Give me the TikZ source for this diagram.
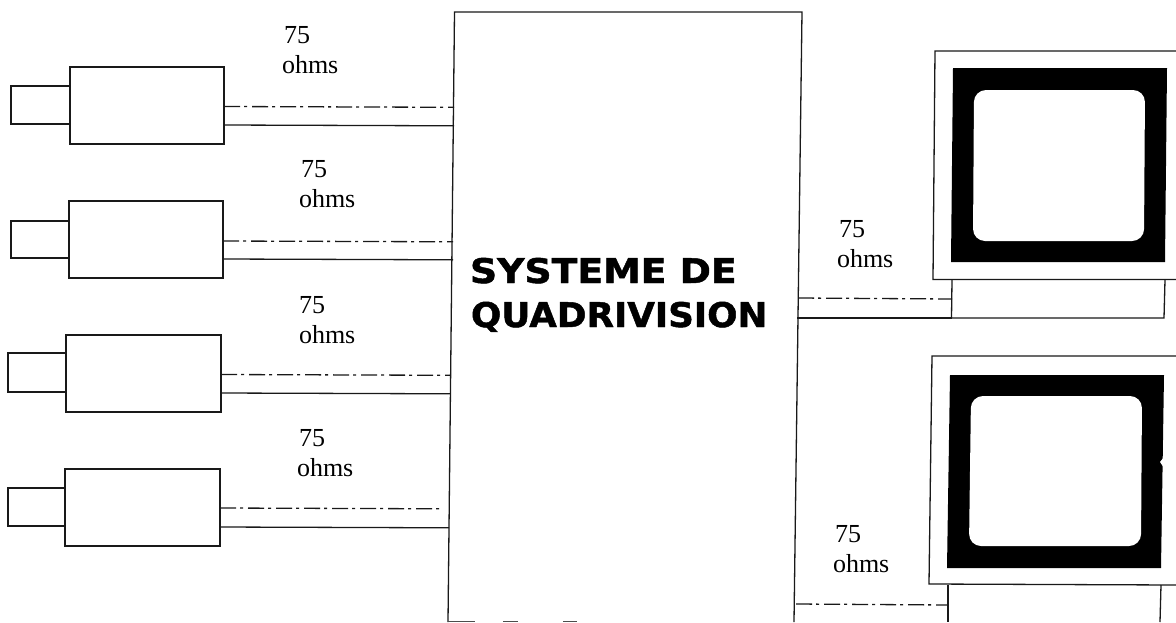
\documentclass[tikz,border=0pt]{standalone}
\usepackage{fontspec}
\setmainfont{Liberation Serif}
\newfontfamily\titlefonta[FakeStretch=1.11,FakeBold=1.4]{DejaVu Sans Bold}
\newfontfamily\titlefontb[FakeStretch=1.05,FakeBold=1.4]{DejaVu Sans Bold}
\begin{document}
\begin{tikzpicture}[x=1pt,y=-1pt,
  line/.style={line width=1.3pt,draw=black!90},
  solidlink/.style={line,line cap=butt},
  dashlink/.style={line width=1.3pt,draw=black!90,dash pattern=on 16pt off 4pt on 3pt off 5pt},
  lbl/.style={anchor=south west,inner sep=0pt,outer sep=0pt,align=left,font=\fontsize{26}{30}\selectfont}
]
\useasboundingbox (0,0) rectangle (1176,622);
\fill[white] (0,0) rectangle (1176,622);

% central unit
\coordinate (qa) at (454.5,12);
\coordinate (qb) at (802,12);
\coordinate (qc) at (794,622);
\coordinate (qd) at (448,622);
\draw[line] (qd) -- (qa) -- (qb) -- (qc);
\draw[line,line width=1pt,black!70] (448,621.5) -- (475,621.5) (503,621.5) -- (518,621.5) (563,621.5) -- (577,621.5);
\node[inner sep=0pt,outer sep=0pt,anchor=base west] (title1) at (470,283) {\titlefonta\fontsize{34}{44}\selectfont SYSTEME DE};
\node[inner sep=0pt,outer sep=0pt,anchor=base west] (title2) at (471,327) {\titlefontb\fontsize{34}{44}\selectfont QUADRIVISION};

% cameras
\foreach \n/\xl/\xm/\xr/\yt/\yb/\lt/\lb/\dy/\sy/\xe/\xs in {
  1/11/70/224/67/144/86/124/106.5/125/454/454,
  2/11/69/223/201/278/221/258/241/259/453/453,
  3/8/66/221/335/412/353/392/374.5/393/450/450,
  4/8/65/220/469/546/488/526/508/527/443/449}{
  \draw[line] (\xl,\lt) rectangle (\xm,\lb);
  \draw[line] (\xm,\yt) rectangle (\xr,\yb);
  \coordinate (d\n a) at (\xr,\dy);
  \coordinate (d\n b) at (\xe,\dy+0.8);
  \coordinate (s\n a) at (\xr,\sy);
  \coordinate (s\n b) at (\xs,\sy+0.8);
  \draw[dashlink] (d\n a) -- (d\n b);
  \draw[solidlink] (s\n a) -- (s\n b);
}

% monitor 1
\coordinate (m1a) at (1176,51);
\coordinate (m1b) at (935,51);
\coordinate (m1c) at (933,279.5);
\coordinate (m1d) at (1176,279.5);
\draw[line] (m1a) -- (m1b) -- (m1c) -- (m1d);
\fill[black] (953,68) -- (1167,68) -- (1165,262) -- (951,262) -- cycle;
\fill[white,rounded corners=12pt] (974,90) -- (1145,90) -- (1144,241) -- (973,241) -- cycle;
\coordinate (b1a) at (952,280);
\coordinate (b1b) at (951.5,318);
\coordinate (b1c) at (1164,318);
\coordinate (b1d) at (1165,280);
\draw[line] (b1a) -- (b1b) -- (b1c) -- (b1d);
\coordinate (md1a) at (798,298);
\coordinate (md1b) at (952,299);
\coordinate (ms1a) at (797,318);
\draw[dashlink] (md1a) -- (md1b);
\draw[solidlink] (ms1a) -- (b1b);

% monitor 2
\coordinate (m2a) at (1176,356);
\coordinate (m2b) at (932,356);
\coordinate (m2c) at (929,584);
\coordinate (m2d) at (1176,585);
\draw[line] (m2a) -- (m2b) -- (m2c) -- (m2d);
\fill[black] (950,375) -- (1164,375) -- (1161,568) -- (947,568) -- cycle;
\fill[white,rounded corners=12pt] (971,396) -- (1142,396) -- (1141,546) -- (969,546) -- cycle;
\fill[white] (1160,462) -- (1164,457) -- (1164,468) -- cycle;
\draw[line] (948,585) -- (948,622);
\draw[line] (1161,585) -- (1160,622);
\coordinate (md2a) at (796,604);
\coordinate (md2b) at (948,605);
\draw[dashlink] (md2a) -- (md2b);

% labels
\node[lbl] (l1) at (282,74) {\hspace*{2pt}75\\ohms};
\node[lbl] (l2) at (299,208) {\hspace*{2pt}75\\ohms};
\node[lbl] (l3) at (299,344) {75\\ohms};
\node[lbl] (l4) at (297,477) {\hspace*{2pt}75\\ohms};
\node[lbl] (l5) at (837,268) {\hspace*{2pt}75\\ohms};
\node[lbl] (l6) at (833,573) {\hspace*{2pt}75\\ohms};
\end{tikzpicture}
\end{document}
